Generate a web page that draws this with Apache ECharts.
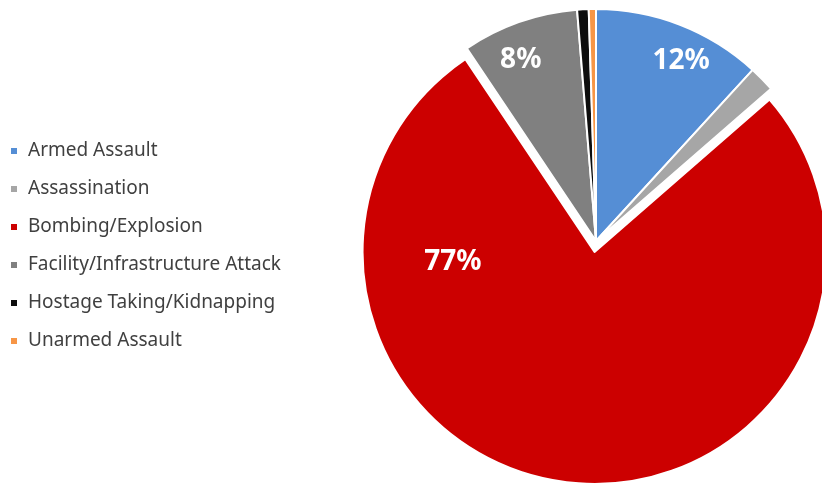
<!DOCTYPE html>
<html>
<head>
<meta charset="utf-8">
<script src="https://cdn.jsdelivr.net/npm/echarts@6/dist/echarts.min.js"></script>
<style>
  html, body { margin: 0; padding: 0; background: #fff; }
  #main { width: 822px; height: 483px; }
</style>
</head>
<body>
<div id="main"></div>
<script>
var categories = [
  "Armed Assault",
  "Assassination",
  "Bombing/Explosion",
  "Facility/Infrastructure Attack",
  "Hostage Taking/Kidnapping",
  "Unarmed Assault"
];
var shares = [11.8, 1.8, 77.0, 8.1, 0.8, 0.5];
var colors = ["#558ed5", "#a6a6a6", "#cc0000", "#808080", "#0d0d0d", "#f79646"];
var showLabel = [true, false, true, true, false, false];
// label nudges from the default inside spot, per slice
var labelShift = {
  0: [42, -69],
  2: [-126, -108],
  3: [-36, -69]
};

var myChart = echarts.init(document.getElementById("main"));

var data = [];
for (var i = 0; i < categories.length; i++) {
  data.push({
    name: categories[i],
    value: shares[i],
    selected: i == 2,
    itemStyle: { color: colors[i] },
    label: { show: showLabel[i] }
  });
}

var option = {
  animation: false,
  legend: {
    orient: "vertical",
    left: 4,
    top: 136,
    icon: "rect",
    itemWidth: 8,
    itemHeight: 8,
    itemGap: 18,
    selectedMode: false,
    data: categories,
    textStyle: {
      color: "#404040",
      fontSize: 19,
      lineHeight: 20,
      padding: [0, 0, 0, 5],
      fontFamily: "Noto Sans"
    }
  },
  series: [
    {
      type: "pie",
      center: [596, 241],
      radius: 232,
      startAngle: 90,
      clockwise: true,
      selectedMode: "single",
      selectedOffset: 11,
      avoidLabelOverlap: false,
      silent: true,
      itemStyle: {
        borderColor: "#fff",
        borderWidth: 2
      },
      emphasis: { disabled: true },
      label: {
        position: "inside",
        color: "#fff",
        fontSize: 28,
        fontWeight: "bold",
        fontFamily: "Noto Sans",
        formatter: function(params) {
          return Math.round(params.value) + "%";
        }
      },
      labelLine: { show: false },
      labelLayout: function(params) {
        var s = labelShift[params.dataIndex];
        if (!s) return {};
        return { dx: s[0], dy: s[1] };
      },
      data: data
    }
  ]
};

myChart.setOption(option);
</script>
</body>
</html>
